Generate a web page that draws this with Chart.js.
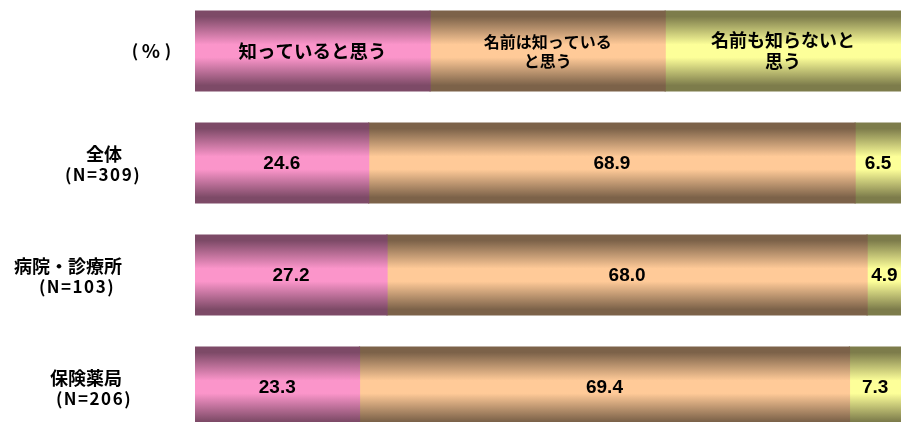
<!DOCTYPE html>
<html>
<head>
<meta charset="utf-8">
<script src="https://cdn.jsdelivr.net/npm/chart.js@4.4.1/dist/chart.umd.min.js"></script>
<style>
  html, body { margin: 0; padding: 0; background: #ffffff; overflow: hidden; }
  body { width: 902px; height: 422px; position: relative; }
  #wrap { position: absolute; left: 0; top: -5px; width: 902px; height: 448px; }
</style>
</head>
<body>
<div id="wrap"><canvas id="chart"></canvas></div>
<script>
// Survey groups and respondent counts
const groups = ['全体', '病院・診療所', '保険薬局'];
const groupN = [309, 103, 206];

// Answer shares (%) per group
const knowIt = [24.6, 27.2, 23.3];    // 知っていると思う
const nameOnly = [68.9, 68.0, 69.4];  // 名前は知っていると思う
const neither = [6.5, 4.9, 7.3];      // 名前も知らないと思う

// Answer names, as shown in the key row on top
const answerNames = [
  ['知っていると思う'],
  ['名前は知っている', 'と思う'],
  ['名前も知らないと', '思う']
];
// Equal widths of the key row segments
const keyShares = [33.3, 33.3, 33.4];
const unitLabel = ['(', '%', ')'];

const rowLabels = [unitLabel.join('')].concat(groups);
const seriesValues = [knowIt, nameOnly, neither];

// Edge / centre colours of the cylinder-like fills
const palettes = [
  { edge: '#7d4a67', mid: '#fb95ca' },
  { edge: '#7c6249', mid: '#ffca98' },
  { edge: '#7d7c4b', mid: '#fdff99' }
];
const BAR_PCT = 80 / 112;

function shadedFill(pal) {
  return function (c) {
    const chart = c.chart;
    const y = chart.scales && chart.scales.y;
    if (!chart.chartArea || !y) return pal.mid;
    const centre = y.getPixelForValue(c.dataIndex);
    const h = (chart.chartArea.bottom - chart.chartArea.top) / rowLabels.length * BAR_PCT;
    const g = chart.ctx.createLinearGradient(0, centre - h / 2, 0, centre + h / 2);
    g.addColorStop(0, pal.edge);
    g.addColorStop(0.07, pal.edge);
    g.addColorStop(0.42, pal.mid);
    g.addColorStop(0.58, pal.mid);
    g.addColorStop(0.93, pal.edge);
    g.addColorStop(1, pal.edge);
    return g;
  };
}

const datasets = seriesValues.map((vals, i) => ({
  label: answerNames[i].join(''),
  data: [keyShares[i]].concat(vals),
  backgroundColor: shadedFill(palettes[i]),
  borderWidth: 0,
  inflateAmount: 0.6,
  barPercentage: BAR_PCT,
  categoryPercentage: 1
}));

// Text inside each segment: answer names in the key row, percentages below
const segmentLabels = {
  id: 'segmentLabels',
  afterDatasetsDraw(chart) {
    const ctx = chart.ctx;
    const keyFont = [18.5, 16, 18];
    const keyGap = [0, 19, 21];
    ctx.save();
    ctx.fillStyle = '#000000';
    ctx.textAlign = 'center';
    ctx.textBaseline = 'middle';
    chart.data.datasets.forEach((ds, di) => {
      const meta = chart.getDatasetMeta(di);
      meta.data.forEach((bar, i) => {
        const cx = (bar.x + bar.base) / 2;
        if (i === 0) {
          const lines = answerNames[di];
          ctx.font = 'bold ' + keyFont[di] + 'px "Noto Sans CJK JP", sans-serif';
          const top = bar.y - (lines.length - 1) * keyGap[di] / 2;
          lines.forEach((t, k) => ctx.fillText(t, cx, top + k * keyGap[di]));
        } else {
          ctx.font = 'bold 19px "Liberation Sans", Arial, sans-serif';
          ctx.fillText(ds.data[i].toFixed(1), cx, bar.y + 1);
        }
      });
    });
    ctx.restore();
  }
};

// Row titles on the left (group name with respondent count beneath)
const rowTitles = {
  id: 'rowTitles',
  afterDraw(chart) {
    const ctx = chart.ctx;
    const y = chart.scales.y;
    const countCentres = [103, 77, 94];
    const unitCentres = [135, 151, 168];
    const unitSizes = [17, 19, 17];
    ctx.save();
    ctx.fillStyle = '#000000';
    ctx.textBaseline = 'middle';
    ctx.textAlign = 'center';
    const uy = y.getPixelForValue(0);
    unitLabel.forEach((ch, k) => {
      ctx.font = 'bold ' + unitSizes[k] + 'px "Noto Sans CJK JP", sans-serif';
      ctx.fillText(ch, unitCentres[k], uy);
    });
    groups.forEach((g, i) => {
      const cy = y.getPixelForValue(i + 1);
      ctx.letterSpacing = '0px';
      ctx.textAlign = 'right';
      ctx.font = 'bold 18px "Noto Sans CJK JP", sans-serif';
      ctx.fillText(g, 122, cy - 9);
      ctx.textAlign = 'center';
      ctx.font = 'bold 17px "Noto Sans CJK JP", sans-serif';
      ctx.letterSpacing = '1.5px';
      ctx.fillText('(N=' + groupN[i] + ')', countCentres[i], cy + 12);
    });
    ctx.restore();
  }
};

new Chart(document.getElementById('chart'), {
  type: 'bar',
  data: { labels: rowLabels, datasets: datasets },
  options: {
    indexAxis: 'y',
    responsive: true,
    maintainAspectRatio: false,
    animation: false,
    layout: { padding: { left: 0, right: 1, top: 0, bottom: 0 } },
    plugins: {
      legend: { display: false },
      tooltip: { enabled: false },
      title: { display: false }
    },
    scales: {
      x: { stacked: true, min: 0, max: 100, display: false },
      y: {
        stacked: true,
        grid: { display: false },
        border: { display: false },
        ticks: { display: false },
        afterFit(scale) { scale.width = 195; }
      }
    }
  },
  plugins: [segmentLabels, rowTitles]
});
</script>
</body>
</html>
